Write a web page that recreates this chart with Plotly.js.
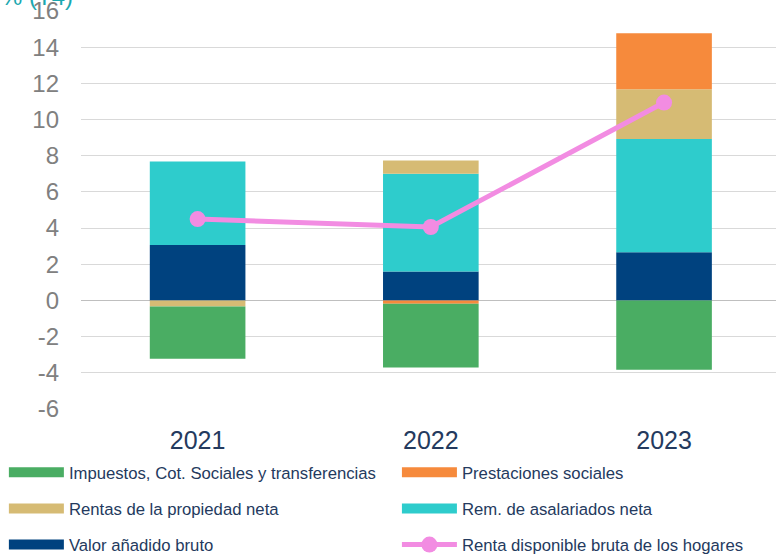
<!DOCTYPE html>
<html>
<head>
<meta charset="utf-8">
<script src="https://cdn.plot.ly/plotly-3.0.1.min.js"></script>
<style>html,body{margin:0;padding:0;background:#fff;}#chart{width:776px;height:554px;}</style>
</head>
<body>
<div id="chart"></div>
<script>
// Data
const years = ['2021', '2022', '2023'];
const valorAnadido = [3.06, 1.60, 2.67];
const remAsalariados = [4.62, 5.40, 6.26];
const rentasPropiedad = [-0.33, 0.73, 2.75];
const prestaciones = [0.0, -0.18, 3.09];
const impuestos = [-2.89, -3.52, -3.83];
const rentaDisponible = [4.50, 4.06, 10.94];
const yTicks = [-6, -4, -2, 0, 2, 4, 6, 8, 10, 12, 14, 16];

const names = {
  imp: 'Impuestos, Cot. Sociales y transferencias',
  pre: 'Prestaciones sociales',
  ren: 'Rentas de la propiedad neta',
  rem: 'Rem. de asalariados neta',
  val: 'Valor añadido bruto',
  rdb: 'Renta disponible bruta de los hogares'
};
const colors = {
  imp: '#4aad63', pre: '#f68a3c', ren: '#d6bb74', rem: '#2ecccc', val: '#00427f', rdb: '#f28ce2'
};

function bar(vals, key) {
  return {type: 'bar', x: years, y: vals, name: names[key], marker: {color: colors[key], line: {width: 0}},
          showlegend: false, hoverinfo: 'skip'};
}
function legItem(key, legend, rank) {
  return {type: 'scatter', mode: 'lines', x: [null], y: [null], name: names[key],
          line: {color: colors[key], width: 10}, legend: legend, legendgroup: key, legendrank: rank, showlegend: true};
}

const traces = [
  bar(valorAnadido, 'val'),
  bar(remAsalariados, 'rem'),
  bar(rentasPropiedad, 'ren'),
  bar(prestaciones, 'pre'),
  bar(impuestos, 'imp'),
  {type: 'scatter', mode: 'lines+markers', x: years, y: rentaDisponible, name: names.rdb,
   line: {color: colors.rdb, width: 5}, marker: {color: colors.rdb, size: 16},
   legend: 'legend2', legendgroup: 'rdb', legendrank: 3},
  legItem('imp', 'legend', 1),
  legItem('ren', 'legend', 2),
  legItem('val', 'legend', 3),
  legItem('pre', 'legend2', 1),
  legItem('rem', 'legend2', 2)
];

const legendFont = {family: 'Liberation Sans, Arial, sans-serif', size: 16.7, color: '#243a5e'};
const layout = {
  width: 776, height: 554,
  margin: {l: 81, r: 0, t: 11, b: 145, autoexpand: false},
  barmode: 'relative',
  bargap: 0.59,
  paper_bgcolor: '#ffffff', plot_bgcolor: '#ffffff',
  font: {family: 'Liberation Sans, Arial, sans-serif'},
  xaxis: {type: 'category', range: [-0.5, 2.48], showgrid: false, zeroline: false, showline: false,
          ticks: '', tickfont: {size: 25, color: '#243a5e'}, ticklabelstandoff: 14, automargin: false},
  yaxis: {range: [-6.0001, 16.0001], tickvals: yTicks, ticktext: yTicks.map(String), showgrid: true,
          gridcolor: '#d9d9d9', gridwidth: 1, zeroline: true, zerolinecolor: '#bfbfbf', zerolinewidth: 1,
          showline: false, ticks: '', tickfont: {size: 24, color: '#808080'}, ticklabelstandoff: 21,
          ticklabeloverflow: 'allow', automargin: false},
  showlegend: true,
  legend: {xref: 'container', yref: 'container', x: 0.005, xanchor: 'left', y: 0.179, yanchor: 'top', orientation: 'v',
           font: legendFont, itemwidth: 55, tracegroupgap: 11.5, bgcolor: 'rgba(0,0,0,0)', traceorder: 'grouped'},
  legend2: {xref: 'container', yref: 'container', x: 0.5115, xanchor: 'left', y: 0.179, yanchor: 'top', orientation: 'v',
           font: legendFont, itemwidth: 55, tracegroupgap: 11.5, bgcolor: 'rgba(0,0,0,0)', traceorder: 'grouped'},
  annotations: [{xref: 'paper', yref: 'paper', x: -0.118, y: 1, yshift: -1, xanchor: 'left', yanchor: 'bottom',
                 text: '% (T4)', showarrow: false, font: {size: 24, color: '#1aa8b0'}}]
};

Plotly.newPlot('chart', traces, layout, {displayModeBar: false, staticPlot: true});
</script>
</body>
</html>
